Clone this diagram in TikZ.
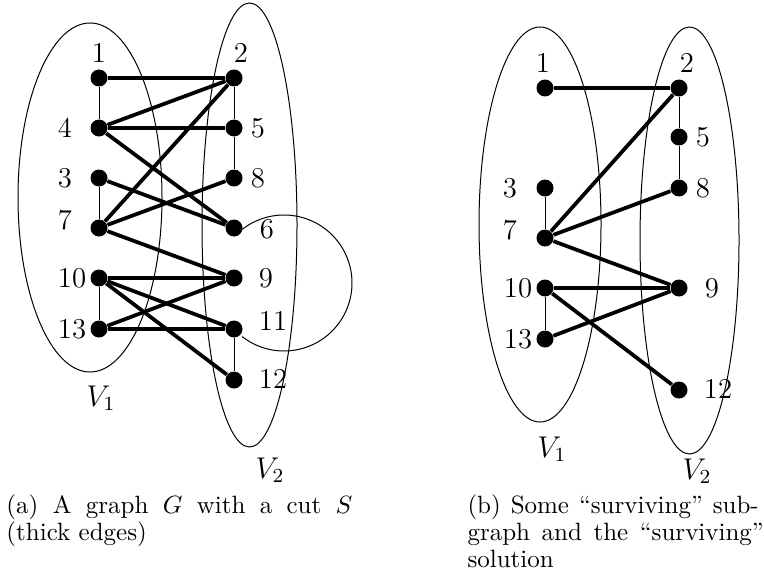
\documentclass[tikz,border=0pt]{standalone}
\begin{document}
\begin{tikzpicture}[x=0.4pt,y=-0.4pt,
  dot/.style={circle,fill=black,inner sep=0pt,minimum size=6.8pt},
  lbl/.style={inner sep=0pt,font=\fontsize{11.5}{13}\selectfont},
  cutedge/.style={line width=1.5pt},
  plainedge/.style={line width=0.4pt},
  part/.style={line width=0.4pt},
  captext/.style={inner sep=0pt,anchor=base west,font=\fontsize{10}{12}\selectfont}]
\useasboundingbox (0,0) rectangle (764,579);

% ---------- (a) ----------
\draw[part] (90,197.5) ellipse [x radius=28.8pt, y radius=69.8pt];
\draw[part] (249.5,225) ellipse [x radius=19pt, y radius=88.8pt];
\draw[part] plot[domain=-128:128, samples=90, smooth] ({284+68*cos(\x)},{283+68*sin(\x)});

\node[dot] (a1) at (99,78) {};
\node[dot] (a2) at (234,78) {};
\node[dot] (a4) at (99,128) {};
\node[dot] (a5) at (234,128) {};
\node[dot] (a3) at (99,178) {};
\node[dot] (a8) at (234,178) {};
\node[dot] (a7) at (99,228) {};
\node[dot] (a6) at (234,228) {};
\node[dot] (a10) at (99,278) {};
\node[dot] (a9) at (234,278) {};
\node[dot] (a13) at (99,329) {};
\node[dot] (a11) at (234,329) {};
\node[dot] (a12) at (234,380) {};

\draw[plainedge] (a1) -- (a4);
\draw[plainedge] (a3) -- (a7);
\draw[plainedge] (a10) -- (a13);
\draw[plainedge] (a2) -- (a5);
\draw[plainedge] (a5) -- (a8);
\draw[plainedge] (a11) -- (a12);

\draw[cutedge] (a1) -- (a2);
\draw[cutedge] (a4) -- (a2);
\draw[cutedge] (a4) -- (a5);
\draw[cutedge] (a4) -- (a6);
\draw[cutedge] (a3) -- (a6);
\draw[cutedge] (a7) -- (a2);
\draw[cutedge] (a7) -- (a8);
\draw[cutedge] (a7) -- (a9);
\draw[cutedge] (a10) -- (a9);
\draw[cutedge] (a10) -- (a11);
\draw[cutedge] (a10) -- (a12);
\draw[cutedge] (a13) -- (a9);
\draw[cutedge] (a13) -- (a11);

\node[lbl] (la1) at (99,53) {1};
\node[lbl] (la2) at (241,53) {2};
\node[lbl] (la4) at (65,128) {4};
\node[lbl] (la5) at (258,128) {5};
\node[lbl] (la3) at (65,178) {3};
\node[lbl] (la8) at (258,178) {8};
\node[lbl] (la7) at (65,220) {7};
\node[lbl] (la6) at (267,229) {6};
\node[lbl] (la10) at (72,278) {10};
\node[lbl] (la9) at (266,278) {9};
\node[lbl] (la13) at (72,329) {13};
\node[lbl] (la11) at (273,321) {11};
\node[lbl] (la12) at (273,379) {12};
\node[lbl] (laV1) at (101,398) {$V_1$};
\node[lbl] (laV2) at (270,470) {$V_2$};

% ---------- (b) ----------
\draw[part] (540,224.5) ellipse [x radius=24.4pt, y radius=79pt];
\draw[part] (689.5,240.5) ellipse [x radius=19.8pt, y radius=85.4pt];

\node[dot] (b1) at (545,88) {};
\node[dot] (b2) at (679,88) {};
\node[dot] (b5) at (679,137) {};
\node[dot] (b3) at (545,188) {};
\node[dot] (b8) at (679,188) {};
\node[dot] (b7) at (545,238) {};
\node[dot] (b10) at (545,288) {};
\node[dot] (b9) at (679,288) {};
\node[dot] (b13) at (545,339) {};
\node[dot] (b12) at (679,390) {};

\draw[plainedge] (b3) -- (b7);
\draw[plainedge] (b10) -- (b13);
\draw[plainedge] (b2) -- (b5);
\draw[plainedge] (b5) -- (b8);

\draw[cutedge] (b1) -- (b2);
\draw[cutedge] (b7) -- (b2);
\draw[cutedge] (b7) -- (b8);
\draw[cutedge] (b7) -- (b9);
\draw[cutedge] (b10) -- (b9);
\draw[cutedge] (b10) -- (b12);
\draw[cutedge] (b13) -- (b9);

\node[lbl] (lb1) at (543,63) {1};
\node[lbl] (lb2) at (687,63) {2};
\node[lbl] (lb5) at (703,137) {5};
\node[lbl] (lb3) at (510,188) {3};
\node[lbl] (lb8) at (703,188) {8};
\node[lbl] (lb7) at (510,230) {7};
\node[lbl] (lb10) at (518,288) {10};
\node[lbl] (lb9) at (712,288) {9};
\node[lbl] (lb13) at (518,339) {13};
\node[lbl] (lb12) at (718,389) {12};
\node[lbl] (lbV1) at (552,449) {$V_1$};
\node[lbl] (lbV2) at (697,471) {$V_2$};

% ---------- captions ----------
\node[captext] (ca1) at (6,513) {\makebox[138.4pt][s]{(a) A graph $G$ with a cut $S$}};
\node[captext] (ca2) at (6,540) {(thick edges)};
\node[captext] (cb1) at (467,513) {\makebox[116.5pt][s]{(b) Some ``surviving'' sub-}};
\node[captext] (cb2) at (467,540) {\makebox[118.5pt][s]{graph and the ``surviving''}};
\node[captext] (cb3) at (467,567) {solution};
\end{tikzpicture}
\end{document}
